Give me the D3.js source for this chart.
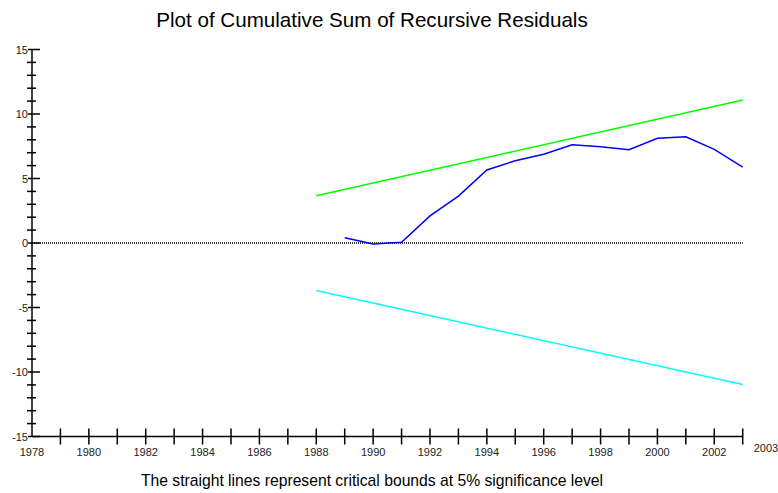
<!DOCTYPE html>
<html>
<head>
<meta charset="utf-8">
<script src="https://cdn.jsdelivr.net/npm/d3@7"></script>
<style>
  body { margin: 0; background: #fff; }
  text { font-family: "Liberation Sans", Arial, sans-serif; }
</style>
</head>
<body>
<script>
    const w = 778;
    const h = 493;

    // Data
    const years = [1989, 1990, 1991, 1992, 1993, 1994, 1995, 1996, 1997, 1998, 1999, 2000, 2001, 2002, 2003];
    const cusum = [0.41, -0.08, 0.05, 2.1, 3.64, 5.66, 6.38, 6.88, 7.62, 7.47, 7.23, 8.12, 8.24, 7.26, 5.89];
    const boundYears = [1988, 2003];
    const upperBound = [3.66, 11.08];
    const lowerBound = [-3.69, -10.97];
    const yMajorTicks = [-15, -10, -5, 0, 5, 10, 15];
    const xLabelYears = [1978, 1980, 1982, 1984, 1986, 1988, 1990, 1992, 1994, 1996, 1998, 2000, 2002];

    const svg = d3.select("body")
        .append("svg")
        .attr("width", w)
        .attr("height", h);

    // Scales
    const xScale = d3.scaleLinear().domain([1978, 2003]).range([32, 742.7]);
    const yScale = d3.scaleLinear().domain([-15, 15]).range([436.5, 49.5]);

    // Title
    svg.append("text")
        .attr("x", 372)
        .attr("y", 27)
        .attr("text-anchor", "middle")
        .style("font-size", "20.6px")
        .text("Plot of Cumulative Sum of Recursive Residuals");

    // Footer
    svg.append("text")
        .attr("x", 372)
        .attr("y", 486)
        .attr("text-anchor", "middle")
        .style("font-size", "15.7px")
        .text("The straight lines represent critical bounds at 5% significance level");

    // Y axis
    const yAxis = svg.append("g");
    yAxis.append("line")
        .attr("x1", xScale(1978)).attr("x2", xScale(1978))
        .attr("y1", yScale(15)).attr("y2", yScale(-15))
        .attr("stroke", "#000").attr("stroke-width", 1.5);

    yAxis.selectAll(".minor")
        .data(d3.range(-15, 16).filter(v => v % 5 !== 0))
        .enter()
        .append("line")
        .attr("x1", xScale(1978) - 5).attr("x2", xScale(1978) + 4)
        .attr("y1", d => yScale(d)).attr("y2", d => yScale(d))
        .attr("stroke", "#000").attr("stroke-width", 1.5);

    yAxis.selectAll(".major")
        .data(yMajorTicks)
        .enter()
        .append("line")
        .attr("x1", xScale(1978) - 4).attr("x2", xScale(1978) + 8)
        .attr("y1", d => yScale(d)).attr("y2", d => yScale(d))
        .attr("stroke", "#000").attr("stroke-width", 1.5);

    yAxis.selectAll(".ylab")
        .data(yMajorTicks)
        .enter()
        .append("text")
        .attr("x", xScale(1978) - 4)
        .attr("y", d => yScale(d) + 4)
        .attr("text-anchor", "end")
        .style("font-size", "11px")
        .style("fill", "#222")
        .text(d => d);

    // X axis
    const xAxis = svg.append("g");
    xAxis.append("line")
        .attr("x1", xScale(1978)).attr("x2", xScale(2003))
        .attr("y1", yScale(-15)).attr("y2", yScale(-15))
        .attr("stroke", "#000").attr("stroke-width", 1.5);

    xAxis.selectAll(".xtick")
        .data(d3.range(1979, 2004))
        .enter()
        .append("line")
        .attr("x1", d => xScale(d)).attr("x2", d => xScale(d))
        .attr("y1", yScale(-15) - 8).attr("y2", yScale(-15) + 8)
        .attr("stroke", "#000").attr("stroke-width", 1.5);

    xAxis.selectAll(".xlab")
        .data(xLabelYears)
        .enter()
        .append("text")
        .attr("x", d => xScale(d))
        .attr("y", yScale(-15) + 19)
        .attr("text-anchor", "middle")
        .style("font-size", "11px")
        .style("fill", "#222")
        .text(d => d);

    xAxis.append("text")
        .attr("x", xScale(2003) + 11)
        .attr("y", yScale(-15) + 15)
        .style("font-size", "11px")
        .style("fill", "#222")
        .text("2003");

    // Zero line
    svg.append("line")
        .attr("x1", xScale(1978)).attr("x2", xScale(2003))
        .attr("y1", yScale(0)).attr("y2", yScale(0))
        .attr("stroke", "#000")
        .attr("stroke-width", 1.5)
        .attr("stroke-dasharray", "1,1");

    const line = d3.line()
        .x(d => xScale(d[0]))
        .y(d => yScale(d[1]));

    // Critical bounds
    svg.append("path")
        .datum(d3.zip(boundYears, upperBound))
        .attr("d", line)
        .attr("fill", "none")
        .attr("stroke", "#00ff00")
        .attr("stroke-width", 1.5);

    svg.append("path")
        .datum(d3.zip(boundYears, lowerBound))
        .attr("d", line)
        .attr("fill", "none")
        .attr("stroke", "#00ffff")
        .attr("stroke-width", 1.5);

    // CUSUM line
    svg.append("path")
        .datum(d3.zip(years, cusum))
        .attr("d", line)
        .attr("fill", "none")
        .attr("stroke", "#0000ff")
        .attr("stroke-width", 1.5);
</script>
</body>
</html>
